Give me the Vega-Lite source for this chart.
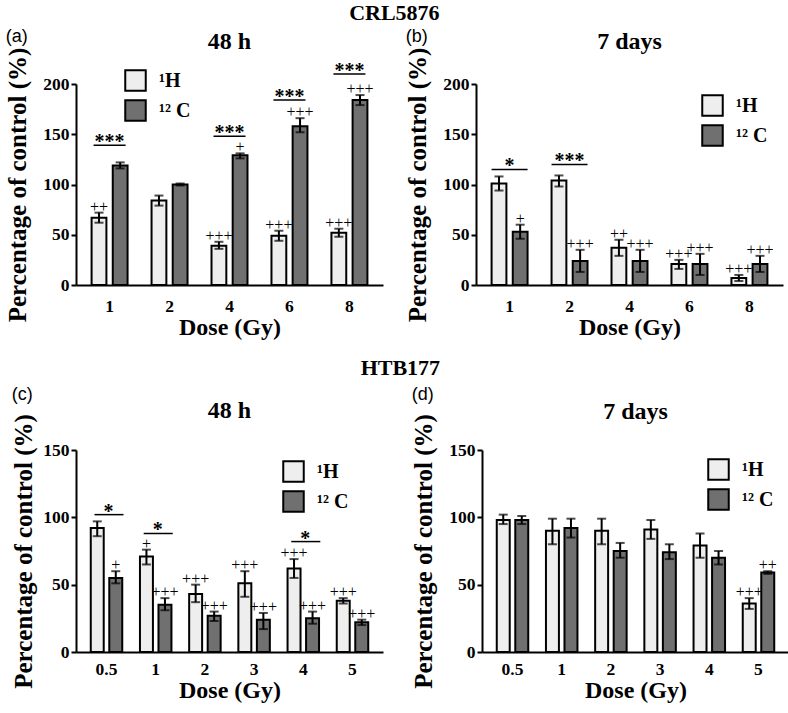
{
  "$schema": "https://vega.github.io/schema/vega-lite/v6.json",
  "padding": {"top": 2, "left": 5, "right": 0, "bottom": 2},
  "background": "white",
  "config": {
    "view": {"stroke": null},
    "font": "Liberation Serif",
    "title": {"font": "Liberation Serif", "fontWeight": "bold", "fontSize": 24, "color": "black"},
    "axis": {
      "grid": false, "domainColor": "black", "domainWidth": 2, "tickColor": "black", "tickWidth": 2,
      "labelFont": "Liberation Serif", "labelFontWeight": "bold", "labelFontSize": 17.5, "labelColor": "black",
      "titleFont": "Liberation Serif", "titleFontWeight": "bold", "titleFontSize": 24, "titleColor": "black"
    },
    "axisX": {"ticks": false, "labelAngle": 0, "titlePadding": 1},
    "axisY": {"tickSize": 5, "labelPadding": 2, "titlePadding": 12, "titleFontSize": 25},
    "legend": {
      "title": null, "symbolType": "square", "symbolSize": 420, "symbolStrokeColor": "black", "symbolStrokeWidth": 2,
      "labelFont": "Liberation Serif", "labelFontWeight": "bold", "labelFontSize": 20, "labelColor": "black",
      "labelOffset": 12, "rowPadding": 1
    }
  },
  "datasets": {
    "bars": [
      {"p": "a", "dose": "1", "ion": "¹H", "m": 67, "lo": 62, "hi": 72, "plus": "++"},
      {"p": "a", "dose": "1", "ion": "¹² C", "m": 119, "lo": 116, "hi": 122, "plus": ""},
      {"p": "a", "dose": "2", "ion": "¹H", "m": 84, "lo": 79, "hi": 89, "plus": ""},
      {"p": "a", "dose": "2", "ion": "¹² C", "m": 100, "lo": 99, "hi": 101, "plus": ""},
      {"p": "a", "dose": "4", "ion": "¹H", "m": 39, "lo": 36, "hi": 43, "plus": "+++"},
      {"p": "a", "dose": "4", "ion": "¹² C", "m": 129, "lo": 126, "hi": 131, "plus": "+"},
      {"p": "a", "dose": "6", "ion": "¹H", "m": 49, "lo": 44, "hi": 54, "plus": "+++"},
      {"p": "a", "dose": "6", "ion": "¹² C", "m": 158, "lo": 152, "hi": 166, "plus": "+++"},
      {"p": "a", "dose": "8", "ion": "¹H", "m": 52, "lo": 48, "hi": 56, "plus": "+++"},
      {"p": "a", "dose": "8", "ion": "¹² C", "m": 184, "lo": 179, "hi": 189, "plus": "+++"},
      {"p": "b", "dose": "1", "ion": "¹H", "m": 101, "lo": 94, "hi": 108, "plus": ""},
      {"p": "b", "dose": "1", "ion": "¹² C", "m": 53, "lo": 46, "hi": 60, "plus": "+"},
      {"p": "b", "dose": "2", "ion": "¹H", "m": 104, "lo": 98, "hi": 109, "plus": ""},
      {"p": "b", "dose": "2", "ion": "¹² C", "m": 24, "lo": 13, "hi": 35, "plus": "+++"},
      {"p": "b", "dose": "4", "ion": "¹H", "m": 37, "lo": 29, "hi": 45, "plus": "++"},
      {"p": "b", "dose": "4", "ion": "¹² C", "m": 24, "lo": 13, "hi": 35, "plus": "+++"},
      {"p": "b", "dose": "6", "ion": "¹H", "m": 21, "lo": 16, "hi": 25, "plus": "+++"},
      {"p": "b", "dose": "6", "ion": "¹² C", "m": 21, "lo": 10, "hi": 31, "plus": "+++"},
      {"p": "b", "dose": "8", "ion": "¹H", "m": 7, "lo": 4, "hi": 10, "plus": "+++"},
      {"p": "b", "dose": "8", "ion": "¹² C", "m": 21, "lo": 13, "hi": 29, "plus": "+++"},
      {"p": "c", "dose": "0.5", "ion": "¹H", "m": 92, "lo": 86, "hi": 97, "plus": ""},
      {"p": "c", "dose": "0.5", "ion": "¹² C", "m": 55, "lo": 51, "hi": 60, "plus": "+"},
      {"p": "c", "dose": "1", "ion": "¹H", "m": 71, "lo": 65, "hi": 76, "plus": "+"},
      {"p": "c", "dose": "1", "ion": "¹² C", "m": 35, "lo": 31, "hi": 40, "plus": "+++"},
      {"p": "c", "dose": "2", "ion": "¹H", "m": 43, "lo": 37, "hi": 50, "plus": "+++"},
      {"p": "c", "dose": "2", "ion": "¹² C", "m": 27, "lo": 23, "hi": 30, "plus": "+++"},
      {"p": "c", "dose": "3", "ion": "¹H", "m": 51, "lo": 41, "hi": 60, "plus": "+++"},
      {"p": "c", "dose": "3", "ion": "¹² C", "m": 24, "lo": 17, "hi": 29, "plus": "+++"},
      {"p": "c", "dose": "4", "ion": "¹H", "m": 62, "lo": 55, "hi": 69, "plus": "+++"},
      {"p": "c", "dose": "4", "ion": "¹² C", "m": 25, "lo": 21, "hi": 30, "plus": "+++"},
      {"p": "c", "dose": "5", "ion": "¹H", "m": 38, "lo": 36, "hi": 40, "plus": "+++"},
      {"p": "c", "dose": "5", "ion": "¹² C", "m": 22, "lo": 20, "hi": 24, "plus": "+++"},
      {"p": "d", "dose": "0.5", "ion": "¹H", "m": 98, "lo": 95, "hi": 102, "plus": ""},
      {"p": "d", "dose": "0.5", "ion": "¹² C", "m": 98, "lo": 95, "hi": 101, "plus": ""},
      {"p": "d", "dose": "1", "ion": "¹H", "m": 90, "lo": 80, "hi": 99, "plus": ""},
      {"p": "d", "dose": "1", "ion": "¹² C", "m": 92, "lo": 85, "hi": 99, "plus": ""},
      {"p": "d", "dose": "2", "ion": "¹H", "m": 90, "lo": 80, "hi": 99, "plus": ""},
      {"p": "d", "dose": "2", "ion": "¹² C", "m": 75, "lo": 70, "hi": 81, "plus": ""},
      {"p": "d", "dose": "3", "ion": "¹H", "m": 91, "lo": 84, "hi": 98, "plus": ""},
      {"p": "d", "dose": "3", "ion": "¹² C", "m": 74, "lo": 69, "hi": 80, "plus": ""},
      {"p": "d", "dose": "4", "ion": "¹H", "m": 79, "lo": 70, "hi": 88, "plus": ""},
      {"p": "d", "dose": "4", "ion": "¹² C", "m": 70, "lo": 65, "hi": 75, "plus": ""},
      {"p": "d", "dose": "5", "ion": "¹H", "m": 36, "lo": 32, "hi": 40, "plus": "+++"},
      {"p": "d", "dose": "5", "ion": "¹² C", "m": 59, "lo": 58, "hi": 60, "plus": "++"}
    ],
    "sig": [
      {"p": "a", "dose": "1", "lv": 139, "s": "***"},
      {"p": "a", "dose": "4", "lv": 148, "s": "***"},
      {"p": "a", "dose": "6", "lv": 184, "s": "***"},
      {"p": "a", "dose": "8", "lv": 210, "s": "***"},
      {"p": "b", "dose": "1", "lv": 115, "s": "*"},
      {"p": "b", "dose": "2", "lv": 120, "s": "***"},
      {"p": "c", "dose": "0.5", "lv": 102, "s": "*"},
      {"p": "c", "dose": "1", "lv": 88, "s": "*"},
      {"p": "c", "dose": "4", "lv": 82, "s": "*"}
    ]
  },
  "resolve": {"scale": {"x": "independent", "y": "independent", "fill": "independent", "xOffset": "independent"}, "legend": {"fill": "independent"}},
  "spacing": 16,
  "vconcat": [
    {
      "title": {"text": "CRL5876", "fontSize": 22, "anchor": "middle", "offset": 3},
      "spacing": 22,
      "resolve": {"scale": {"x": "independent", "y": "independent", "fill": "independent", "xOffset": "independent"}, "legend": {"fill": "independent"}},
      "hconcat": [
        {
          "title": {"text": "(a)", "anchor": "start", "font": "Liberation Sans", "fontWeight": "normal", "fontSize": 18, "offset": -16},
          "resolve": {"scale": {"x": "independent", "y": "independent", "fill": "independent", "xOffset": "independent"}, "legend": {"fill": "independent"}},
          "vconcat": [
            {
              "title": {"text": "48 h", "offset": -7},
              "width": 307, "height": 201,
              "data": {"name": "bars"},
              "transform": [{"filter": "datum.p == 'a'"}],
              "encoding": {
                "x": {"field": "dose", "type": "nominal", "title": "Dose (Gy)", "scale": {"paddingInner": 0.4, "paddingOuter": 0.26}, "axis": {"labelPadding": 12}}
              },
              "layer": [
                {
                  "mark": {"type": "bar", "stroke": "black", "strokeWidth": 2},
                  "encoding": {
                    "xOffset": {"field": "ion", "type": "nominal", "scale": {"domain": ["¹H", "¹² C"], "paddingInner": 0.3}},
                    "y": {"field": "m", "type": "quantitative", "scale": {"domain": [0, 200], "nice": false}, "axis": {"values": [0, 50, 100, 150, 200], "title": "Percentage of control (%)"}},
                    "fill": {"field": "ion", "type": "nominal", "scale": {"domain": ["¹H", "¹² C"], "range": ["#eeeeee", "#707070"]}, "legend": {"orient": "none", "legendX": 48, "legendY": -15}}
                  }
                },
                {
                  "mark": {"type": "rule", "strokeWidth": 2, "color": "black"},
                  "encoding": {"xOffset": {"field": "ion", "type": "nominal"}, "y": {"field": "lo", "type": "quantitative"}, "y2": {"field": "hi"}}
                },
                {
                  "mark": {"type": "tick", "orient": "horizontal", "size": 9, "thickness": 2, "color": "black"},
                  "encoding": {"xOffset": {"field": "ion", "type": "nominal"}, "y": {"field": "lo", "type": "quantitative"}}
                },
                {
                  "mark": {"type": "tick", "orient": "horizontal", "size": 9, "thickness": 2, "color": "black"},
                  "encoding": {"xOffset": {"field": "ion", "type": "nominal"}, "y": {"field": "hi", "type": "quantitative"}}
                },
                {
                  "mark": {"type": "text", "font": "Liberation Serif", "fontSize": 16, "baseline": "bottom", "dy": 2},
                  "encoding": {"xOffset": {"field": "ion", "type": "nominal"}, "y": {"field": "hi", "type": "quantitative"}, "text": {"field": "plus"}, "fill": {"value": "black"}}
                },
                {
                  "data": {"name": "sig"}, "transform": [{"filter": "datum.p == 'a'"}],
                  "mark": {"type": "rule", "strokeWidth": 1.5, "color": "black", "xOffset": -16, "x2Offset": 16},
                  "encoding": {"x2": {"field": "dose"}, "y": {"field": "lv", "type": "quantitative"}}
                },
                {
                  "data": {"name": "sig"}, "transform": [{"filter": "datum.p == 'a'"}],
                  "mark": {"type": "text", "font": "Liberation Serif", "fontSize": 20, "fontWeight": "bold", "baseline": "alphabetic", "dy": 3},
                  "encoding": {"y": {"field": "lv", "type": "quantitative"}, "text": {"field": "s"}, "fill": {"value": "black"}}
                }
              ]
            }
          ]
        },
        {
          "title": {"text": "(b)", "anchor": "start", "font": "Liberation Sans", "fontWeight": "normal", "fontSize": 18, "offset": -16},
          "resolve": {"scale": {"x": "independent", "y": "independent", "fill": "independent", "xOffset": "independent"}, "legend": {"fill": "independent"}},
          "vconcat": [
            {
              "title": {"text": "7 days", "offset": -7},
              "width": 307, "height": 201,
              "data": {"name": "bars"},
              "transform": [{"filter": "datum.p == 'b'"}],
              "encoding": {
                "x": {"field": "dose", "type": "nominal", "title": "Dose (Gy)", "scale": {"paddingInner": 0.4, "paddingOuter": 0.26}, "axis": {"labelPadding": 12}}
              },
              "layer": [
                {
                  "mark": {"type": "bar", "stroke": "black", "strokeWidth": 2},
                  "encoding": {
                    "xOffset": {"field": "ion", "type": "nominal", "scale": {"domain": ["¹H", "¹² C"], "paddingInner": 0.3}},
                    "y": {"field": "m", "type": "quantitative", "scale": {"domain": [0, 200], "nice": false}, "axis": {"values": [0, 50, 100, 150, 200], "title": "Percentage of control (%)"}},
                    "fill": {"field": "ion", "type": "nominal", "scale": {"domain": ["¹H", "¹² C"], "range": ["#eeeeee", "#707070"]}, "legend": {"orient": "none", "legendX": 225, "legendY": 10}}
                  }
                },
                {
                  "mark": {"type": "rule", "strokeWidth": 2, "color": "black"},
                  "encoding": {"xOffset": {"field": "ion", "type": "nominal"}, "y": {"field": "lo", "type": "quantitative"}, "y2": {"field": "hi"}}
                },
                {
                  "mark": {"type": "tick", "orient": "horizontal", "size": 9, "thickness": 2, "color": "black"},
                  "encoding": {"xOffset": {"field": "ion", "type": "nominal"}, "y": {"field": "lo", "type": "quantitative"}}
                },
                {
                  "mark": {"type": "tick", "orient": "horizontal", "size": 9, "thickness": 2, "color": "black"},
                  "encoding": {"xOffset": {"field": "ion", "type": "nominal"}, "y": {"field": "hi", "type": "quantitative"}}
                },
                {
                  "mark": {"type": "text", "font": "Liberation Serif", "fontSize": 16, "baseline": "bottom", "dy": 2},
                  "encoding": {"xOffset": {"field": "ion", "type": "nominal"}, "y": {"field": "hi", "type": "quantitative"}, "text": {"field": "plus"}, "fill": {"value": "black"}}
                },
                {
                  "data": {"name": "sig"}, "transform": [{"filter": "datum.p == 'b'"}],
                  "mark": {"type": "rule", "strokeWidth": 1.5, "color": "black", "xOffset": -18, "x2Offset": 18},
                  "encoding": {"x2": {"field": "dose"}, "y": {"field": "lv", "type": "quantitative"}}
                },
                {
                  "data": {"name": "sig"}, "transform": [{"filter": "datum.p == 'b'"}],
                  "mark": {"type": "text", "font": "Liberation Serif", "fontSize": 20, "fontWeight": "bold", "baseline": "alphabetic", "dy": 3},
                  "encoding": {"y": {"field": "lv", "type": "quantitative"}, "text": {"field": "s"}, "fill": {"value": "black"}}
                }
              ]
            }
          ]
        }
      ]
    },
    {
      "title": {"text": "HTB177", "fontSize": 22, "anchor": "middle", "offset": 6},
      "spacing": 28,
      "resolve": {"scale": {"x": "independent", "y": "independent", "fill": "independent", "xOffset": "independent"}, "legend": {"fill": "independent"}},
      "hconcat": [
        {
          "title": {"text": "(c)", "anchor": "start", "font": "Liberation Sans", "fontWeight": "normal", "fontSize": 18, "offset": -5},
          "resolve": {"scale": {"x": "independent", "y": "independent", "fill": "independent", "xOffset": "independent"}, "legend": {"fill": "independent"}},
          "vconcat": [
            {
              "title": {"text": "48 h", "offset": -9},
              "width": 307, "height": 202,
              "data": {"name": "bars"},
              "transform": [{"filter": "datum.p == 'c'"}],
              "encoding": {
                "x": {"field": "dose", "type": "nominal", "title": "Dose (Gy)", "scale": {"paddingInner": 0.36, "paddingOuter": 0.3}, "axis": {"labelPadding": 8}}
              },
              "layer": [
                {
                  "mark": {"type": "bar", "stroke": "black", "strokeWidth": 2},
                  "encoding": {
                    "xOffset": {"field": "ion", "type": "nominal", "scale": {"domain": ["¹H", "¹² C"], "paddingInner": 0.3}},
                    "y": {"field": "m", "type": "quantitative", "scale": {"domain": [0, 150], "nice": false}, "axis": {"values": [0, 50, 100, 150], "title": "Percentage of control (%)", "titlePadding": 6}},
                    "fill": {"field": "ion", "type": "nominal", "scale": {"domain": ["¹H", "¹² C"], "range": ["#eeeeee", "#707070"]}, "legend": {"orient": "none", "legendX": 206, "legendY": 10}}
                  }
                },
                {
                  "mark": {"type": "rule", "strokeWidth": 2, "color": "black"},
                  "encoding": {"xOffset": {"field": "ion", "type": "nominal"}, "y": {"field": "lo", "type": "quantitative"}, "y2": {"field": "hi"}}
                },
                {
                  "mark": {"type": "tick", "orient": "horizontal", "size": 9, "thickness": 2, "color": "black"},
                  "encoding": {"xOffset": {"field": "ion", "type": "nominal"}, "y": {"field": "lo", "type": "quantitative"}}
                },
                {
                  "mark": {"type": "tick", "orient": "horizontal", "size": 9, "thickness": 2, "color": "black"},
                  "encoding": {"xOffset": {"field": "ion", "type": "nominal"}, "y": {"field": "hi", "type": "quantitative"}}
                },
                {
                  "mark": {"type": "text", "font": "Liberation Serif", "fontSize": 16, "baseline": "bottom", "dy": 2},
                  "encoding": {"xOffset": {"field": "ion", "type": "nominal"}, "y": {"field": "hi", "type": "quantitative"}, "text": {"field": "plus"}, "fill": {"value": "black"}}
                },
                {
                  "data": {"name": "sig"}, "transform": [{"filter": "datum.p == 'c'"}],
                  "mark": {"type": "rule", "strokeWidth": 1.5, "color": "black", "xOffset": -12, "x2Offset": 17},
                  "encoding": {"x2": {"field": "dose"}, "y": {"field": "lv", "type": "quantitative"}}
                },
                {
                  "data": {"name": "sig"}, "transform": [{"filter": "datum.p == 'c'"}],
                  "mark": {"type": "text", "font": "Liberation Serif", "fontSize": 20, "fontWeight": "bold", "baseline": "alphabetic", "dy": 3, "dx": 2},
                  "encoding": {"y": {"field": "lv", "type": "quantitative"}, "text": {"field": "s"}, "fill": {"value": "black"}}
                }
              ]
            }
          ]
        },
        {
          "title": {"text": "(d)", "anchor": "start", "font": "Liberation Sans", "fontWeight": "normal", "fontSize": 18, "offset": -4},
          "resolve": {"scale": {"x": "independent", "y": "independent", "fill": "independent", "xOffset": "independent"}, "legend": {"fill": "independent"}},
          "vconcat": [
            {
              "title": {"text": "7 days", "offset": -10},
              "width": 307, "height": 202,
              "data": {"name": "bars"},
              "transform": [{"filter": "datum.p == 'd'"}],
              "encoding": {
                "x": {"field": "dose", "type": "nominal", "title": "Dose (Gy)", "scale": {"paddingInner": 0.36, "paddingOuter": 0.3}, "axis": {"labelPadding": 8}}
              },
              "layer": [
                {
                  "mark": {"type": "bar", "stroke": "black", "strokeWidth": 2},
                  "encoding": {
                    "xOffset": {"field": "ion", "type": "nominal", "scale": {"domain": ["¹H", "¹² C"], "paddingInner": 0.3}},
                    "y": {"field": "m", "type": "quantitative", "scale": {"domain": [0, 150], "nice": false}, "axis": {"values": [0, 50, 100, 150], "title": "Percentage of control (%)"}},
                    "fill": {"field": "ion", "type": "nominal", "scale": {"domain": ["¹H", "¹² C"], "range": ["#eeeeee", "#707070"]}, "legend": {"orient": "none", "legendX": 225, "legendY": 8}}
                  }
                },
                {
                  "mark": {"type": "rule", "strokeWidth": 2, "color": "black"},
                  "encoding": {"xOffset": {"field": "ion", "type": "nominal"}, "y": {"field": "lo", "type": "quantitative"}, "y2": {"field": "hi"}}
                },
                {
                  "mark": {"type": "tick", "orient": "horizontal", "size": 9, "thickness": 2, "color": "black"},
                  "encoding": {"xOffset": {"field": "ion", "type": "nominal"}, "y": {"field": "lo", "type": "quantitative"}}
                },
                {
                  "mark": {"type": "tick", "orient": "horizontal", "size": 9, "thickness": 2, "color": "black"},
                  "encoding": {"xOffset": {"field": "ion", "type": "nominal"}, "y": {"field": "hi", "type": "quantitative"}}
                },
                {
                  "mark": {"type": "text", "font": "Liberation Serif", "fontSize": 16, "baseline": "bottom", "dy": 2},
                  "encoding": {"xOffset": {"field": "ion", "type": "nominal"}, "y": {"field": "hi", "type": "quantitative"}, "text": {"field": "plus"}, "fill": {"value": "black"}}
                }
              ]
            }
          ]
        }
      ]
    }
  ]
}
